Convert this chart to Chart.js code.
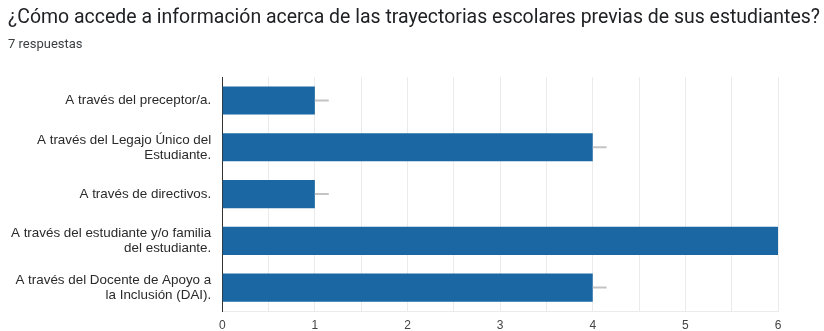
<!DOCTYPE html>
<html>
<head>
<meta charset="utf-8">
<script src="https://cdn.jsdelivr.net/npm/chart.js@4"></script>
<style>
  html, body { margin: 0; padding: 0; background: #fff; }
  #wrap { width: 824px; height: 331px; }
</style>
</head>
<body>
<div id="wrap"><canvas id="chart1" width="824" height="331"></canvas></div>
<script>
// data
const categories = [
    ['A través del preceptor/a.'],
    ['A través del Legajo Único del', 'Estudiante.'],
    ['A través de directivos.'],
    ['A través del estudiante y/o familia', 'del estudiante.'],
    ['A través del Docente de Apoyo a', 'la Inclusión (DAI).']
];
const counts = [1, 4, 1, 6, 4];
const xTickLabels = ['0', '1', '2', '3', '4', '5', '6'];

// little grey stub drawn after each bar end
const stubPlugin = {
    id: 'stubs',
    afterDatasetsDraw(chart) {
        const ctx = chart.ctx;
        const xs = chart.scales.x;
        const meta = chart.getDatasetMeta(0);
        ctx.save();
        ctx.beginPath();
        ctx.rect(chart.chartArea.left, chart.chartArea.top, chart.chartArea.width, chart.chartArea.height);
        ctx.clip();
        ctx.strokeStyle = '#c4c4c4';
        ctx.lineWidth = 2;
        meta.data.forEach((bar, i) => {
            const x0 = bar.x;
            const x1 = xs.getPixelForValue(counts[i] + 0.15);
            ctx.beginPath();
            ctx.moveTo(x0, bar.y);
            ctx.lineTo(x1, bar.y);
            ctx.stroke();
        });
        ctx.restore();
    }
};

var ctx1 = document.getElementById('chart1').getContext('2d');
var myBarChart = new Chart(ctx1, {
    type: 'bar',
    data: {
        labels: categories,
        datasets: [{
            data: counts,
            backgroundColor: '#1a67a3',
            borderColor: '#1a67a3',
            borderWidth: 0,
            barPercentage: 0.6,
            categoryPercentage: 1.0
        }]
    },
    plugins: [stubPlugin],
    options: {
        indexAxis: 'y',
        responsive: false,
        animation: false,
        layout: { padding: { left: 8, right: 4, top: 0, bottom: 0 } },
        plugins: {
            legend: { display: false },
            tooltip: { enabled: false },
            title: {
                display: true,
                align: 'start',
                text: '¿Cómo accede a información acerca de las trayectorias escolares previas de sus estudiantes?',
                color: '#202124',
                font: { family: 'Roboto', size: 20.5, weight: 'normal' },
                padding: { top: 6, bottom: 3 }
            },
            subtitle: {
                display: true,
                align: 'start',
                text: '7 respuestas',
                color: '#3c4043',
                font: { family: 'Roboto', size: 13 },
                padding: { top: 3, bottom: 25 }
            }
        },
        scales: {
            x: {
                min: 0,
                max: 6,
                grid: { color: '#ebebeb', drawTicks: false },
                border: { display: true, color: '#ebebeb' },
                afterFit: function (scale) {
                    scale.height = 20;
                    scale.paddingRight = 46;
                },
                ticks: {
                    stepSize: 0.5,
                    autoSkip: false,
                    maxRotation: 0,
                    padding: 7,
                    color: '#444',
                    font: { family: 'Liberation Sans', size: 12 },
                    callback: function (value) {
                        return Number.isInteger(value) ? xTickLabels[value] : '';
                    }
                }
            },
            y: {
                grid: { display: false },
                border: { display: true, color: '#333', width: 1 },
                afterFit: function (scale) {
                    scale.paddingTop = 0;
                    scale.paddingBottom = 0;
                },
                ticks: {
                    padding: 3,
                    color: '#2a2a2a',
                    font: { family: 'Liberation Sans', size: 13.4, lineHeight: 1.12 }
                }
            }
        }
    }
});
</script>
</body>
</html>
